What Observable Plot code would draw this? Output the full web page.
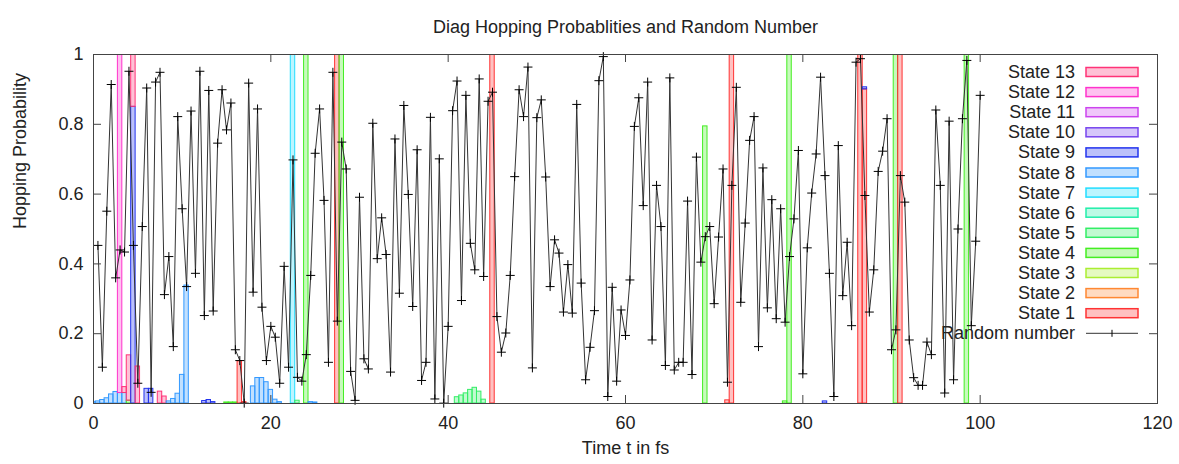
<!DOCTYPE html>
<html><head><meta charset="utf-8">
<script src="https://cdn.jsdelivr.net/npm/d3@7"></script>
<script src="https://cdn.jsdelivr.net/npm/@observablehq/plot@0.6"></script>
<style>body{margin:0;background:#fff;} #chart svg{display:block}</style>
</head><body><div id="chart"></div>
<script>
// ---- data ----
const chartTitle = "Diag Hopping Probablities and Random Number";
const xLabel = "Time t in fs";
const yLabel = "Hopping Probability";
const xTicks = [0, 20, 40, 60, 80, 100, 120];
const xTickLabels = ["0", "20", "40", "60", "80", "100", "120"];
const yTicks = [0, 0.2, 0.4, 0.6, 0.8, 1];
const yTickLabels = ["0", "0.2", "0.4", "0.6", "0.8", "1"];
const timeStep = 0.5;
const randomTimes = d3.range(1, 201).map(i => i * timeStep);
const randomValues = [
  0.453,0.104,0.551,0.914,0.360,0.440,0.434,0.952,0.453,0.058,
  0.507,0.904,0.032,0.921,0.949,0.312,0.421,0.163,0.822,0.558,
  0.335,0.838,0.373,0.952,0.252,0.897,0.265,0.746,0.899,0.784,
  0.861,0.154,0.123,0.001,0.918,0.319,0.844,0.276,0.123,0.221,
  0.190,0.058,
  0.393,0.104,0.698,0.075,0.064,0.140,0.367,0.717,0.844,0.582,
  0.118,0.949,0.236,0.749,0.672,0.092,0.009,0.591,0.128,0.099,
  0.803,0.415,0.532,0.427,0.090,0.758,0.316,0.854,0.599,0.278,
  0.727,0.066,0.118,0.820,0.013,0.701,0.001,0.221,0.839,0.924,
  0.295,0.883,0.459,0.383,0.930,0.364,0.866,0.892,0.249,0.147,
  0.202,0.367,0.650,0.899,0.822,0.964,0.102,0.819,0.870,0.649,
  0.335,0.469,0.431,0.262,0.398,0.259,0.857,0.345,0.068,0.161,
  0.266,0.925,0.994,0.020,0.333,0.064,0.268,0.195,0.354,0.794,0.876,
  0.567,0.921,0.182,0.625,0.507,0.109,0.933,0.096,0.118,0.118,
  0.580,0.083,0.706,0.405,0.478,0.507,0.286,0.477,0.672,0.061,
  0.625,0.906,0.290,0.517,0.754,0.822,0.163,0.675,0.274,0.584,
  0.243,0.558,0.233,0.421,0.529,0.725,0.085,0.446,0.603,0.715,
  0.935,0.653,0.373,0.020,0.739,0.309,0.462,0.223,0.978,0.988,
  0.596,0.262,0.383,0.665,0.723,0.816,0.154,0.211,0.653,0.577,
  0.182,0.074,0.052,0.052,0.176,0.140,0.841,0.625,0.030,0.809,
  0.068,0.500,0.816,0.983,0.223,0.465,0.883
];
const stateNames = ["State 1","State 2","State 3","State 4","State 5","State 6","State 7",
  "State 8","State 9","State 10","State 11","State 12","State 13"];
const stateColors = ["#ff3333","#ff8833","#aaee33","#44ee22","#33ee66","#22eeaa","#22ddff",
  "#3399ff","#2233ee","#7744ee","#cc44ee","#ff33cc","#ff3377"];
// hopping probabilities per state: [time, probability]
const state1 = [[16.5,0.121],[17,0.004],[27.5,1],[45,1],[71.5,0.009],[72,1],[86.5,1],[87,0.9],[91,1]];
const state2 = [];
const state3 = [];
const state4 = [[4,0.008],[15,0.003],[15.5,0.003],[16,0.003],[24,1],[28,1],[69,0.794],[78,0.006],[78.5,1],[90.5,1],[98.5,1]];
const state5 = [[23,0.008],[41,0.018],[41.5,0.023],[42,0.029],[42.5,0.039],[43,0.045],[43.5,0.034],[44,0.011]];
const state6 = [];
const state7 = [[22.5,1]];
const state8 = [[0,0.004],[0.5,0.006],[1,0.01],[1.5,0.015],[2,0.026],[2.5,0.033],[3,0.03],[3.5,0.03],
  [8.5,0.006],[9,0.013],[9.5,0.028],[10,0.082],[10.5,0.338],
  [18,0.049],[18.5,0.073],[19,0.073],[19.5,0.061],[20,0.039],[20.5,0.011],[21,0.004],[24.5,0.004],[25,0.003]];
const state9 = [[4.5,0.85],[6,0.042],[6.5,0.042],[12.5,0.007],[13,0.01],[13.5,0.004],[82.5,0.006],[87,0.006]];
const state10 = [];
const state11 = [];
const state12 = [[3,0.97]];
const state13 = [[3.5,0.017],[4,0.13],[4.5,0.15],[5,0.106],[7.5,0.034],[8,0.02]];
const randomLabel = "Random number";

// ---- build tables ----
const stateData = [state1,state2,state3,state4,state5,state6,state7,state8,state9,state10,state11,state12,state13];
let bars = [];
stateData.forEach((arr, s) => arr.forEach(([t, p]) => bars.push({t, p, s, state: stateNames[s]})));
bars.sort((a, b) => a.t - b.t || a.s - b.s);
const acc = new Map();
bars.forEach(d => { const b = acc.get(d.t) || 0; d.y1 = b; d.y2 = b + d.p; acc.set(d.t, d.y2); });
const random = randomTimes.map((t, i) => ({t, v: randomValues[i]}));

// ---- layout ----
const W = 1179, H = 464, ML = 93, MR = 22, MT = 54, MB = 61;
const FW = W - ML - MR, FH = H - MT - MB, TL = 8;
const ink = "#222", frameInk = "#444";

const plot = Plot.plot({
  width: W, height: H, marginLeft: ML, marginRight: MR, marginTop: MT, marginBottom: MB,
  style: {fontFamily: "'Liberation Sans', Arial, sans-serif", fontSize: "18px", color: ink, background: "#fff"},
  x: {domain: [0, 120], ticks: xTicks, tickSize: 0, tickPadding: 13, label: null,
      tickFormat: d => xTickLabels[xTicks.indexOf(d)]},
  y: {domain: [0, 1], ticks: yTicks, tickSize: 0, tickPadding: 10, label: null,
      tickFormat: d => yTickLabels[yTicks.indexOf(d)]},
  color: {domain: stateNames, range: stateColors},
  marks: [
    Plot.rect(bars, {x1: d => d.t - timeStep / 2, x2: d => d.t + timeStep / 2, y1: "y1", y2: "y2",
      fill: "state", fillOpacity: 0.3, stroke: "state", strokeWidth: 1, clip: true}),
    Plot.line(random, {x: "t", y: "v", stroke: "#333", strokeWidth: 1}),
    Plot.dot(random, {x: "t", y: "v", symbol: "plus", r: 3, stroke: "#000", strokeWidth: 1}),
    Plot.frame({stroke: frameInk}),
    Plot.tickX(xTicks, {x: d => d, insetTop: FH - TL, stroke: frameInk}),
    Plot.tickX(xTicks, {x: d => d, insetBottom: FH - TL, stroke: frameInk}),
    Plot.tickY(yTicks, {y: d => d, insetRight: FW - TL, stroke: frameInk}),
    Plot.tickY(yTicks, {y: d => d, insetLeft: FW - TL, stroke: frameInk}),
    Plot.text([chartTitle], {frameAnchor: "top", dy: -34, fill: ink}),
    Plot.text([xLabel], {frameAnchor: "bottom", dy: 50, fill: ink}),
    Plot.text([yLabel], {frameAnchor: "left", dx: -73, rotate: -90, fill: ink})
  ]
});
document.getElementById("chart").appendChild(plot);

// ---- legend inside the plot (top-right) ----
const svg = d3.select(plot.tagName.toLowerCase() === "svg" ? plot : plot.querySelector("svg"));
const lg = svg.append("g").attr("font-family", "'Liberation Sans', Arial, sans-serif").attr("font-size", 18);
const rowH = 20.1, top0 = 72, textX = 1075, swX = 1086, swW = 52, swH = 9;
const legendStates = stateNames.map((n, i) => ({name: n, color: stateColors[i]})).reverse();
legendStates.forEach((d, i) => {
  const y = top0 + i * rowH;
  lg.append("text").attr("x", textX).attr("y", y).attr("text-anchor", "end")
    .attr("dominant-baseline", "central").attr("fill", ink).text(d.name);
  lg.append("rect").attr("x", swX).attr("y", y - swH / 2).attr("width", swW).attr("height", swH)
    .attr("fill", d.color).attr("fill-opacity", 0.3).attr("stroke", d.color).attr("stroke-width", 1.5);
});
const yR = top0 + legendStates.length * rowH;
lg.append("text").attr("x", textX).attr("y", yR).attr("text-anchor", "end")
  .attr("dominant-baseline", "central").attr("fill", ink).text(randomLabel);
lg.append("line").attr("x1", swX).attr("x2", swX + swW).attr("y1", yR).attr("y2", yR).attr("stroke", "#333");
lg.append("line").attr("x1", swX + swW / 2).attr("x2", swX + swW / 2).attr("y1", yR - 3.5).attr("y2", yR + 3.5).attr("stroke", "#000");
</script>
</body></html>
